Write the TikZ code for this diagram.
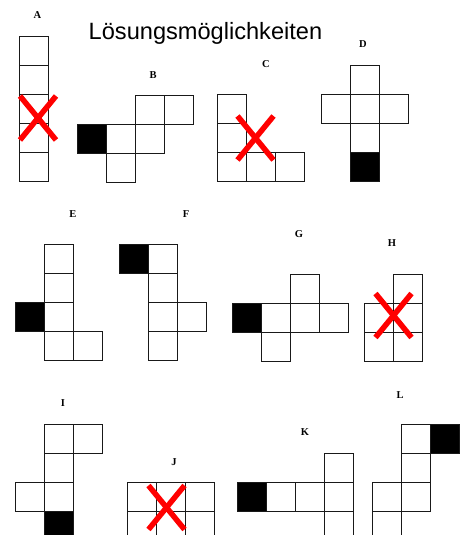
\documentclass[tikz,border=0pt]{standalone}
\usepackage{fontspec}
\setmainfont{Liberation Serif}
\newfontfamily\titlefont{Liberation Sans}

\tikzset{
  cell/.style={draw=black!90, line width=0.9pt, fill=white},
  darkcell/.style={draw=black!90, line width=0.9pt, fill=black},
  cross/.style={red, line width=5.5pt},
  netlabel/.style={font=\bfseries\fontsize{10.5}{12}\selectfont}
}
% one square of a net, top left corner given
\newcommand{\netcell}[3][cell]{\draw[#1] (#2,#3) rectangle ++(29,29);}
% red cross through a net that does not work
\newcommand{\netcross}[2]{%
  \draw[cross] (#1-18,#2-22) -- (#1+18,#2+22);
  \draw[cross] (#1-18,#2+22) -- (#1+18,#2-22);}

\begin{document}
\begin{tikzpicture}[x=1pt, y=-1pt]
    \useasboundingbox (0,0) rectangle (462,535);
    \clip (0,0) rectangle (462,535);

    % Title
    \node (title) at (205.5,40) [anchor=base, font=\titlefont\fontsize{23.6}{28}\selectfont] {Lösungsmöglichkeiten};

    % Net A
    \foreach \y in {36,65,94,123,152} {\netcell{19}{\y}}
    \netcross{38}{118}

    % Net B
    \foreach \x/\y in {106/124,135/95,164/95,135/124,106/153} {\netcell{\x}{\y}}
    \netcell[darkcell]{77}{124}

    % Net C
    \foreach \x/\y in {217/94,217/123,217/152,246/152,275/152} {\netcell{\x}{\y}}
    \netcross{255.5}{138}

    % Net D
    \foreach \x/\y in {350/65,321/94,350/94,379/94,350/123} {\netcell{\x}{\y}}
    \netcell[darkcell]{350}{152}

    % Net E
    \foreach \x/\y in {44/244,44/273,44/302,44/331,73/331} {\netcell{\x}{\y}}
    \netcell[darkcell]{15}{302}

    % Net F
    \foreach \x/\y in {148/244,148/273,148/302,148/331,177/302} {\netcell{\x}{\y}}
    \netcell[darkcell]{119}{244}

    % Net G
    \foreach \x/\y in {261/303,290/303,319/303,290/274,261/332} {\netcell{\x}{\y}}
    \netcell[darkcell]{232}{303}

    % Net H
    \foreach \x/\y in {393/274,364/303,393/303,364/332,393/332} {\netcell{\x}{\y}}
    \netcross{393.5}{315.5}

    % Net I
    \foreach \x/\y in {44/424,73/424,44/453,44/482,15/482} {\netcell{\x}{\y}}
    \netcell[darkcell]{44}{511}

    % Net J
    \foreach \x/\y in {127/482,156/482,185/482,127/511,156/511,185/511} {\netcell{\x}{\y}}
    \netcross{166.5}{507.5}

    % Net K
    \foreach \x/\y in {266/482,295/482,324/482,324/453,324/511} {\netcell{\x}{\y}}
    \netcell[darkcell]{237}{482}

    % Net L
    \foreach \x/\y in {401/424,401/453,401/482,372/482,372/511} {\netcell{\x}{\y}}
    \netcell[darkcell]{430}{424}

    % Letters of the nets
    \node (labA) at (37.5,15.5) [netlabel] {A};
    \node (labB) at (153,75) [netlabel] {B};
    \node (labC) at (266,64) [netlabel] {C};
    \node (labD) at (363,44) [netlabel] {D};
    \node (labE) at (73,214) [netlabel] {E};
    \node (labF) at (186,214) [netlabel] {F};
    \node (labG) at (299,234) [netlabel] {G};
    \node (labH) at (392,243) [netlabel] {H};
    \node (labI) at (63,403) [netlabel] {I};
    \node (labJ) at (174,462) [netlabel] {J};
    \node (labK) at (305,432) [netlabel] {K};
    \node (labL) at (400,395) [netlabel] {L};

\end{tikzpicture}
\end{document}
